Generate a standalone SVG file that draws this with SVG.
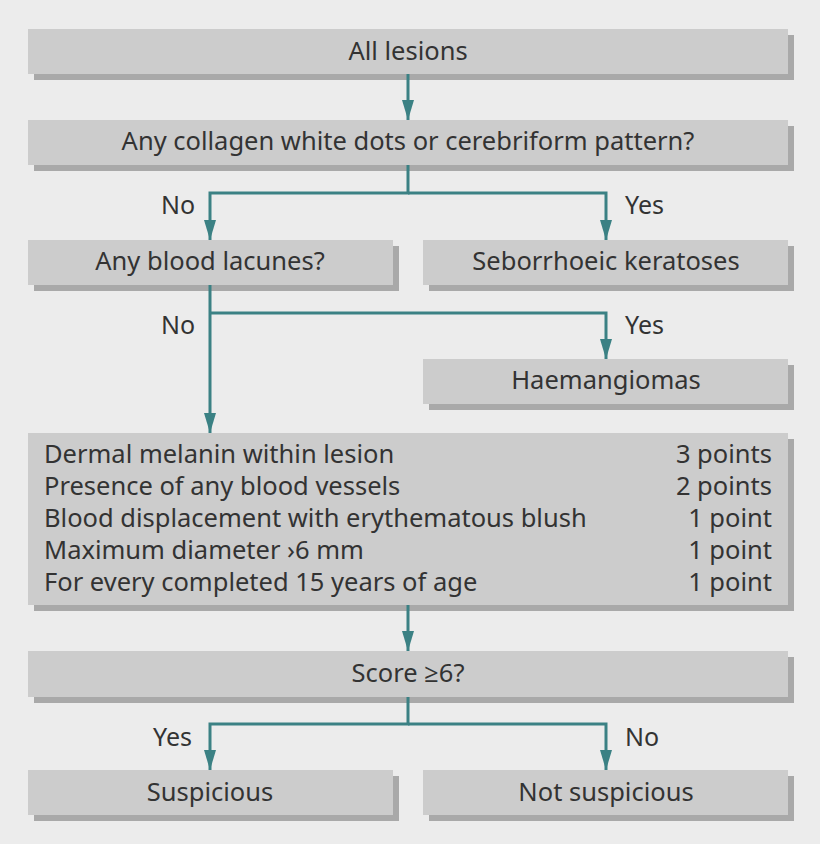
<svg xmlns="http://www.w3.org/2000/svg" width="820" height="844" viewBox="0 0 820 844">
<defs>
<style>
.bg{fill:#ececec}
.sh{fill:#a9a9a9}
.bx{fill:#cccccc}
.t{font-family:"Noto Sans","Open Sans","Liberation Sans",sans-serif;font-size:25.5px;fill:#333333;text-anchor:middle}
.l{font-family:"Noto Sans","Open Sans","Liberation Sans",sans-serif;font-size:25px;fill:#333333}
.s{font-family:"Noto Sans","Open Sans","Liberation Sans",sans-serif;font-size:25.5px;fill:#333333}
.r{text-anchor:end}
.c{fill:none;stroke:#3b8184;stroke-width:3}
</style>
<marker id="ah" markerUnits="userSpaceOnUse" markerWidth="20" markerHeight="12" viewBox="0 0 20 12" refX="20" refY="6" orient="auto">
<path d="M0,0 L20,6 L0,12 Z" fill="#3b8184"/>
</marker>
</defs>
<rect class="bg" x="0" y="0" width="820" height="844"/>

<g id="n-all">
<rect class="sh" x="34" y="35" width="760" height="45"/>
<rect class="bx" x="28" y="29" width="760" height="45"/>
<text class="t" x="408" y="60">All lesions</text>
</g>
<g id="n-collagen">
<rect class="sh" x="34" y="126" width="760" height="45"/>
<rect class="bx" x="28" y="120" width="760" height="45"/>
<text class="t" x="408" y="150">Any collagen white dots or cerebriform pattern?</text>
</g>
<g id="n-lacunes">
<rect class="sh" x="34" y="246" width="365" height="45"/>
<rect class="bx" x="28" y="240" width="365" height="45"/>
<text class="t" x="210" y="270">Any blood lacunes?</text>
</g>
<g id="n-seb">
<rect class="sh" x="429" y="246" width="365" height="45"/>
<rect class="bx" x="423" y="240" width="365" height="45"/>
<text class="t" x="606" y="270">Seborrhoeic keratoses</text>
</g>
<g id="n-haem">
<rect class="sh" x="429" y="365" width="365" height="45"/>
<rect class="bx" x="423" y="359" width="365" height="45"/>
<text class="t" x="606" y="389">Haemangiomas</text>
</g>
<g id="n-points">
<rect class="sh" x="34" y="439" width="760" height="172"/>
<rect class="bx" x="28" y="433" width="760" height="172"/>
<text class="s" x="44" y="463">Dermal melanin within lesion</text>
<text class="s" x="44" y="495">Presence of any blood vessels</text>
<text class="s" x="44" y="527">Blood displacement with erythematous blush</text>
<text class="s" x="44" y="559">Maximum diameter ›6 mm</text>
<text class="s" x="44" y="591">For every completed 15 years of age</text>
<text class="s r" x="772" y="463">3 points</text>
<text class="s r" x="772" y="495">2 points</text>
<text class="s r" x="772" y="527">1 point</text>
<text class="s r" x="772" y="559">1 point</text>
<text class="s r" x="772" y="591">1 point</text>
</g>
<g id="n-score">
<rect class="sh" x="34" y="657" width="760" height="46"/>
<rect class="bx" x="28" y="651" width="760" height="46"/>
<text class="t" x="408" y="682">Score ≥6?</text>
</g>
<g id="n-susp">
<rect class="sh" x="34" y="776" width="365" height="45"/>
<rect class="bx" x="28" y="770" width="365" height="45"/>
<text class="t" x="210" y="801">Suspicious</text>
</g>
<g id="n-notsusp">
<rect class="sh" x="429" y="776" width="365" height="45"/>
<rect class="bx" x="423" y="770" width="365" height="45"/>
<text class="t" x="606" y="801">Not suspicious</text>
</g>

<g id="connectors">
<path class="c" d="M408,74 V120" marker-end="url(#ah)"/>
<path class="c" d="M408,165 V193 H210 V240" marker-end="url(#ah)"/>
<path class="c" d="M408,193 H606 V240" marker-end="url(#ah)"/>
<path class="c" d="M210,285 V433" marker-end="url(#ah)"/>
<path class="c" d="M210,313 H606 V359" marker-end="url(#ah)"/>
<path class="c" d="M408,605 V651" marker-end="url(#ah)"/>
<path class="c" d="M408,697 V724 H210 V770" marker-end="url(#ah)"/>
<path class="c" d="M408,724 H606 V770" marker-end="url(#ah)"/>
</g>
<g id="labels">
<text class="l" x="161" y="214">No</text>
<text class="l" x="625" y="214">Yes</text>
<text class="l" x="161" y="334">No</text>
<text class="l" x="625" y="334">Yes</text>
<text class="l" x="153" y="746">Yes</text>
<text class="l" x="625" y="746">No</text>
</g>
</svg>
